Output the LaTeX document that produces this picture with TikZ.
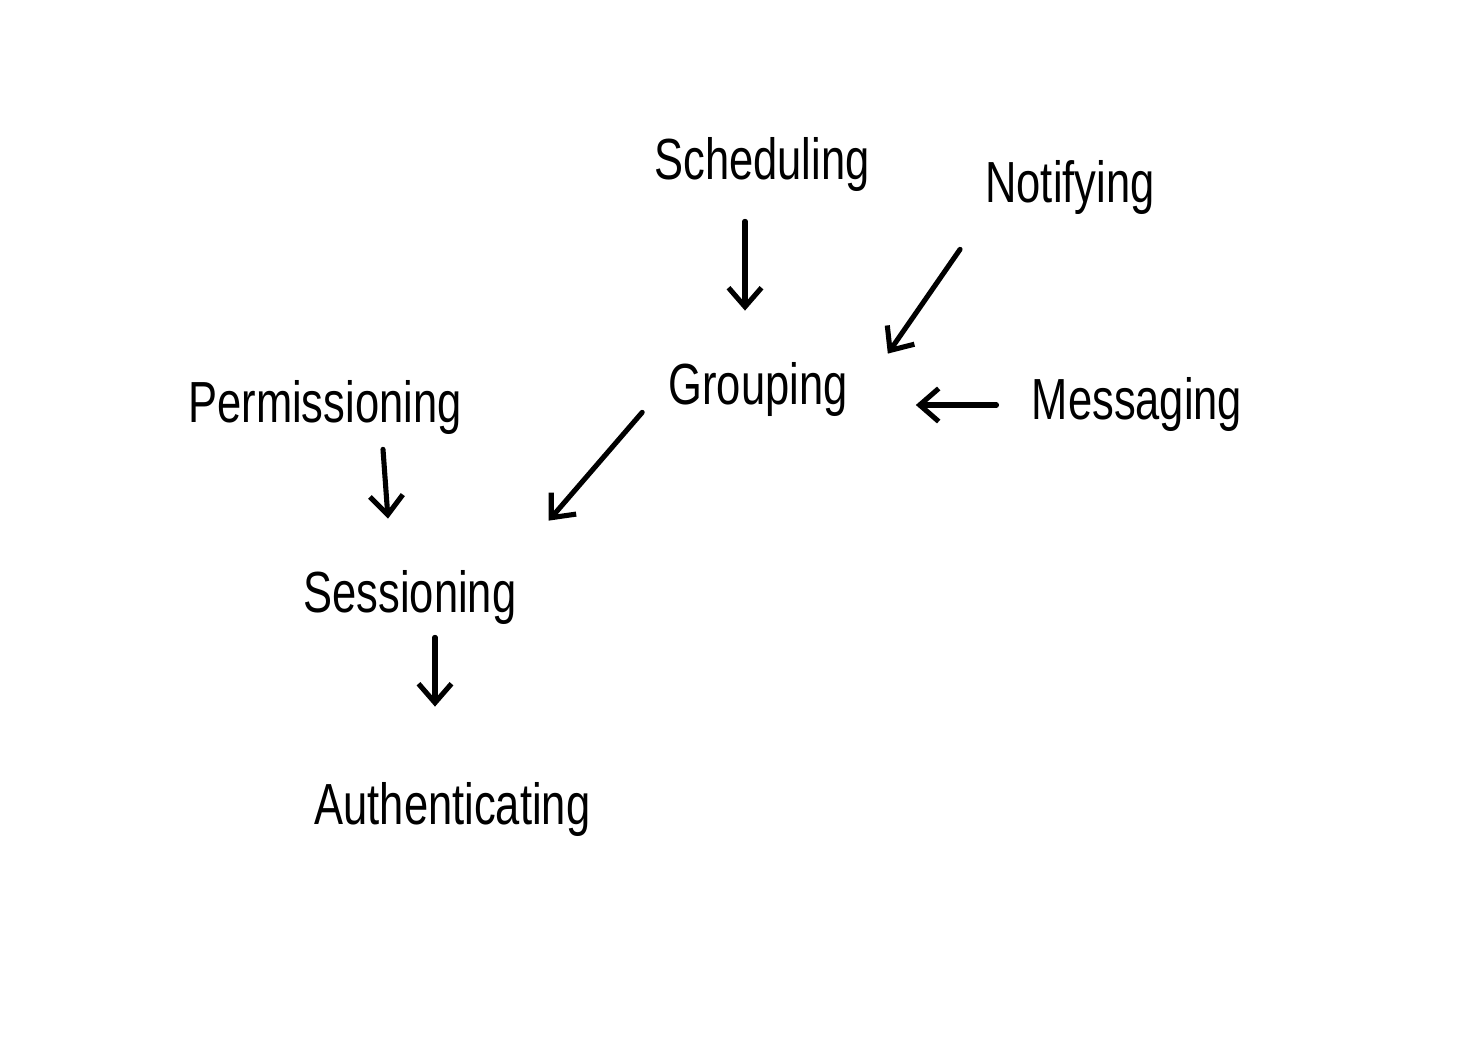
\documentclass[tikz,border=0pt]{standalone}
\usepackage{fontspec}
\newfontfamily\handfont[FakeStretch=0.75]{Liberation Sans}
\usetikzlibrary{arrows.meta}

\begin{document}
\begin{tikzpicture}[
    word/.style={
        inner sep=0pt, anchor=center,
        font=\handfont\fontsize{33}{36}\selectfont
    },
    arrow/.style={-{Straight Barb[length=0.38cm, width=0.66cm]}, line width=2.9pt, line cap=round}
]
  % page frame
  \useasboundingbox[fill=white] (0,0) rectangle (29.52,-21.22);

  % Top row
  \node[word] (sched) at (15.24, -3.3) {Scheduling};
  \node[word] (notif) at (21.4, -3.76) {Notifying};

  % Middle row
  \node[word] (perm) at (6.5, -8.15) {Permissioning};
  \node[word] (group) at (15.16, -7.8) {Grouping};
  \node[word] (mess) at (22.74, -8.1) {Messaging};

  % Lower column
  \node[word] (sess) at (8.2, -11.95) {Sessioning};
  \node[word] (auth) at (9.05, -16.2) {Authenticating};

  % Into Grouping
  \draw[arrow] ([shift={(-0.34,-0.58)}]sched.south) -- ([shift={(-0.26,1.04)}]group.north);
  \draw[arrow] ([shift={(-0.5,-0.68)}]notif.south west) -- ([shift={(0.8,0.18)}]group.north east);
  \draw[arrow, shorten <=0.7cm, shorten >=1.36cm] (mess.west) -- (mess.west -| group.east);

  % Down to Sessioning and Authenticating
  \draw[arrow] ([shift={(-0.52,0.1)}]group.south west) -- ([shift={(0.64,0.99)}]sess.north east);
  \draw[arrow] ([shift={(1.16,-0.29)}]perm.south) -- ([shift={(-0.44,1.03)}]sess.north);
  \draw[arrow] ([shift={(0.5,-0.25)}]sess.south) -- ([shift={(-0.35,1.52)}]auth.north);

\end{tikzpicture}
\end{document}
